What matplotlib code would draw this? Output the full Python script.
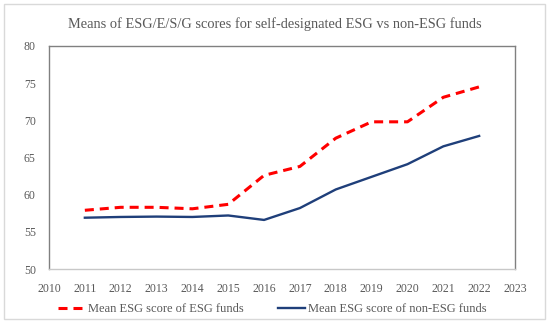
import numpy as np
import matplotlib.pyplot as plt
from matplotlib.patches import Rectangle

years = [2011, 2012, 2013, 2014, 2015, 2016, 2017, 2018, 2019, 2020, 2021, 2022]
esg_funds = [57.9, 58.3, 58.3, 58.1, 58.7, 62.6, 63.8, 67.6, 69.8, 69.8, 73.1, 74.5]
non_esg_funds = [56.9, 57.0, 57.05, 57.0, 57.2, 56.6, 58.2, 60.7, 62.4, 64.1, 66.5, 67.9]
title = "Means of ESG/E/S/G scores for self-designated ESG vs non-ESG funds"

plt.rcParams['font.family'] = ['Liberation Serif', 'DejaVu Serif']
txt = '#595959'

fig = plt.figure(figsize=(5.5, 3.23), dpi=100)
ax = fig.add_axes([49/550, 1 - 269/323, 466/550, 223/323])

ax.plot(years, esg_funds, color='#ff0000', lw=2.2, dashes=(2.95, 1.95),
        label='Mean ESG score of ESG funds')
ax.plot(years, non_esg_funds, color='#1f3f7a', lw=1.7,
        label='Mean ESG score of non-ESG funds')

ax.set_xlim(2010, 2023)
ax.set_ylim(50, 80)
ax.set_xticks(range(2010, 2024))
ax.set_yticks(range(50, 81, 5))
ax.tick_params(length=0, labelsize=8.5, colors=txt)
ax.tick_params(axis='x', pad=10)
ax.tick_params(axis='y', pad=9.5)
for s in ['left', 'top', 'right']:
    ax.spines[s].set_color('#808080')
    ax.spines[s].set_linewidth(1.0)
ax.spines['bottom'].set_color('#c8c8c8')
ax.spines['bottom'].set_linewidth(1.0)

fig.text(0.5, 1 - 24/323, title, ha='center', va='center', fontsize=10.4, color=txt)
fig.legend(loc='center', bbox_to_anchor=(272.5/550, 1 - 309/323), ncol=2, frameon=False,
           fontsize=9, labelcolor=txt, handlelength=2.2, columnspacing=2.7,
           handletextpad=0.2, borderpad=0, borderaxespad=0)

fig.patches.append(Rectangle((4/550, 4.5/323), 541/550, 315/323, transform=fig.transFigure,
                             fill=False, edgecolor='#d9d9d9', lw=1.0))

fig.savefig('out.png', dpi=100)
